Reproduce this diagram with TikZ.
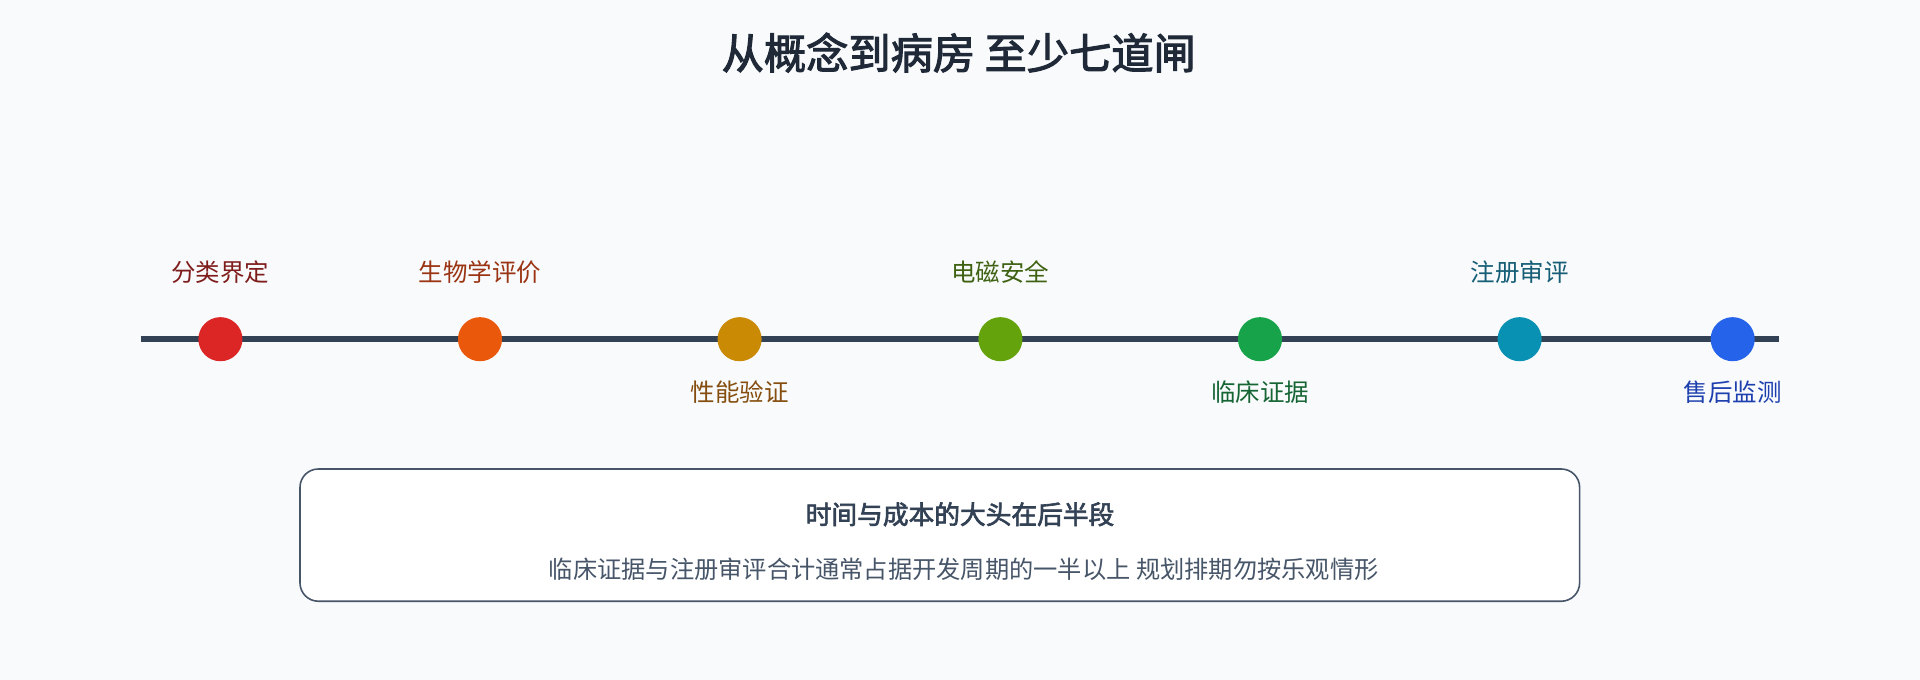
\documentclass[tikz,border=0pt]{standalone}
\usepackage{fontspec}
\setmainfont{Noto Sans CJK SC}
\newfontfamily\cjkb{Noto Sans CJK SC}[FakeBold=2.5]
\definecolor{bg}{HTML}{F8FAFC}
\definecolor{ink}{HTML}{1F2937}
\definecolor{axis}{HTML}{334155}
\definecolor{c1}{HTML}{DC2626}\definecolor{t1}{HTML}{7F1D1D}
\definecolor{c2}{HTML}{EA580C}\definecolor{t2}{HTML}{9A3412}
\definecolor{c3}{HTML}{CA8A04}\definecolor{t3}{HTML}{854D0E}
\definecolor{c4}{HTML}{65A30D}\definecolor{t4}{HTML}{3F6212}
\definecolor{c5}{HTML}{16A34A}\definecolor{t5}{HTML}{166534}
\definecolor{c6}{HTML}{0891B2}\definecolor{t6}{HTML}{155E75}
\definecolor{c7}{HTML}{2563EB}\definecolor{t7}{HTML}{1E40AF}
\definecolor{boxb}{HTML}{475569}
\begin{document}
\begin{tikzpicture}[x=1pt,y=-1pt,
  dot/.style={circle,minimum size=36pt,inner sep=0pt},
  lab/.style={font=\fontsize{20}{24}\selectfont,inner sep=0pt}]
\fill[bg] (0,0) rectangle (1568,555);
\useasboundingbox (0,0) rectangle (1568,555);
\node[font=\cjkb\fontsize{34.5}{40}\selectfont,text=ink] (title) at (783,43) {从概念到病房 至少七道闸};
\coordinate (l0) at (115,277); \coordinate (l1) at (1453,277);
\draw[axis,line width=4.5pt] (l0) -- (l1);
\foreach \x/\i/\t/\y in {180/1/分类界定/222,392/2/生物学评价/222,604/3/性能验证/320,817/4/电磁安全/222,1029/5/临床证据/320,1241/6/注册审评/222,1415/7/售后监测/320}{
  \node[dot,fill=c\i] (d\i) at (\x,277) {};
}
\foreach \x/\i/\t/\y in {180/1/分类界定/222,392/2/生物学评价/222,604/3/性能验证/320,817/4/电磁安全/222,1029/5/临床证据/320,1241/6/注册审评/222,1415/7/售后监测/320}{
  \node[lab,text=t\i] (n\i) at (\x,\y) {\t};
}
\node[draw=boxb,line width=1.3pt,fill=white,rounded corners=15pt,minimum width=1045pt,minimum height=108pt] (box) at (767.5,437) {};
\node[font=\cjkb\fontsize{21}{25}\selectfont,text=axis] (bt) at (784,420) {时间与成本的大头在后半段};
\node[font=\fontsize{19.8}{24}\selectfont,text=boxb] (bb) at (787,465) {临床证据与注册审评合计通常占据开发周期的一半以上 规划排期勿按乐观情形};
\end{tikzpicture}
\end{document}
